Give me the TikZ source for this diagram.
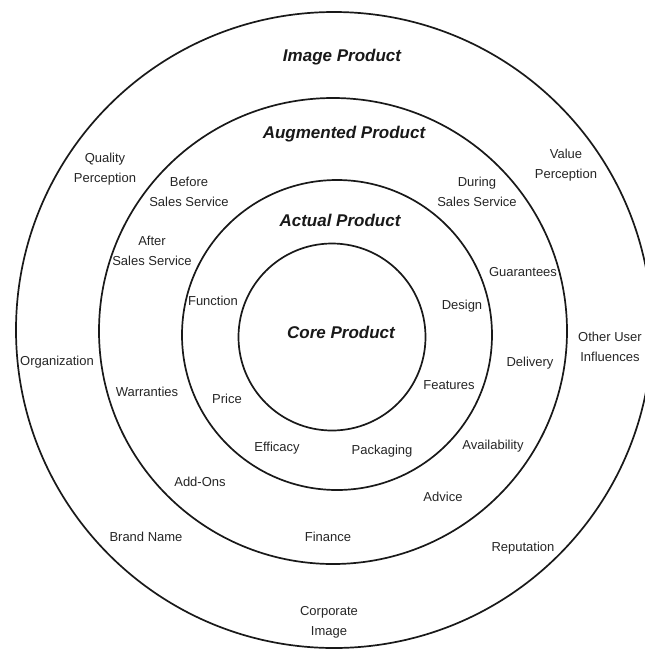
\documentclass[tikz,border=0pt]{standalone}
\usepackage{fontspec}
\setmainfont{Liberation Sans}
\begin{document}
\begin{tikzpicture}[x=1pt,y=-1pt,
  ring/.style={line width=1.7pt,draw=black!90},
  lbl/.style={inner sep=0pt,align=center,text=black!85,font=\fontsize{13}{20}\selectfont},
  ttl/.style={inner sep=0pt,align=center,text=black!90,font=\fontsize{17}{20}\selectfont\bfseries\itshape}]
\useasboundingbox (0,0) rectangle (645,657);
\clip (0,0) rectangle (645,657);
\fill[white] (0,0) rectangle (645,657);
% rings
\draw[ring] (334,330) ellipse [x radius=318pt, y radius=318pt];
\draw[ring] (333,331) ellipse [x radius=234pt, y radius=233pt];
\draw[ring] (337,335) ellipse [x radius=155pt, y radius=155pt];
\draw[ring] (332,337) ellipse [x radius=93.5pt, y radius=93.5pt];
% titles
\node[ttl] (image) at (342,57) {Image Product};
\node[ttl] (augmented) at (344,134) {Augmented Product};
\node[ttl] (actual) at (340,220) {Actual Product};
\node[ttl] (core) at (341,332) {Core Product};
% image product ring
\node[lbl] (quality) at (105,169) {Quality\\Perception};
\node[lbl] (value) at (566,165) {Value\\Perception};
\node[lbl] (org) at (57,362) {Organization};
\node[lbl] (other) at (610,347) {Other User\\Influences};
\node[lbl] (brand) at (146,537) {Brand Name};
\node[lbl] (reput) at (523,548) {Reputation};
\node[lbl] (corp) at (329,622) {Corporate\\Image};
% augmented product ring
\node[lbl] (before) at (189,192) {Before\\Sales Service};
\node[lbl] (during) at (477,192) {During\\Sales Service};
\node[lbl] (after) at (152,251) {After\\Sales Service};
\node[lbl] (guar) at (523,272) {Guarantees};
\node[lbl] (deliv) at (530,363) {Delivery};
\node[lbl] (warr) at (147,392) {Warranties};
\node[lbl] (avail) at (493,446) {Availability};
\node[lbl] (addons) at (200,482) {Add-Ons};
\node[lbl] (advice) at (443,497) {Advice};
\node[lbl] (finance) at (328,537) {Finance};
% actual product ring
\node[lbl] (function) at (213,301) {Function};
\node[lbl] (design) at (462,306) {Design};
\node[lbl] (features) at (449,385) {Features};
\node[lbl] (price) at (227,399) {Price};
\node[lbl] (efficacy) at (277,448) {Efficacy};
\node[lbl] (packaging) at (382,451) {Packaging};
\end{tikzpicture}
\end{document}
